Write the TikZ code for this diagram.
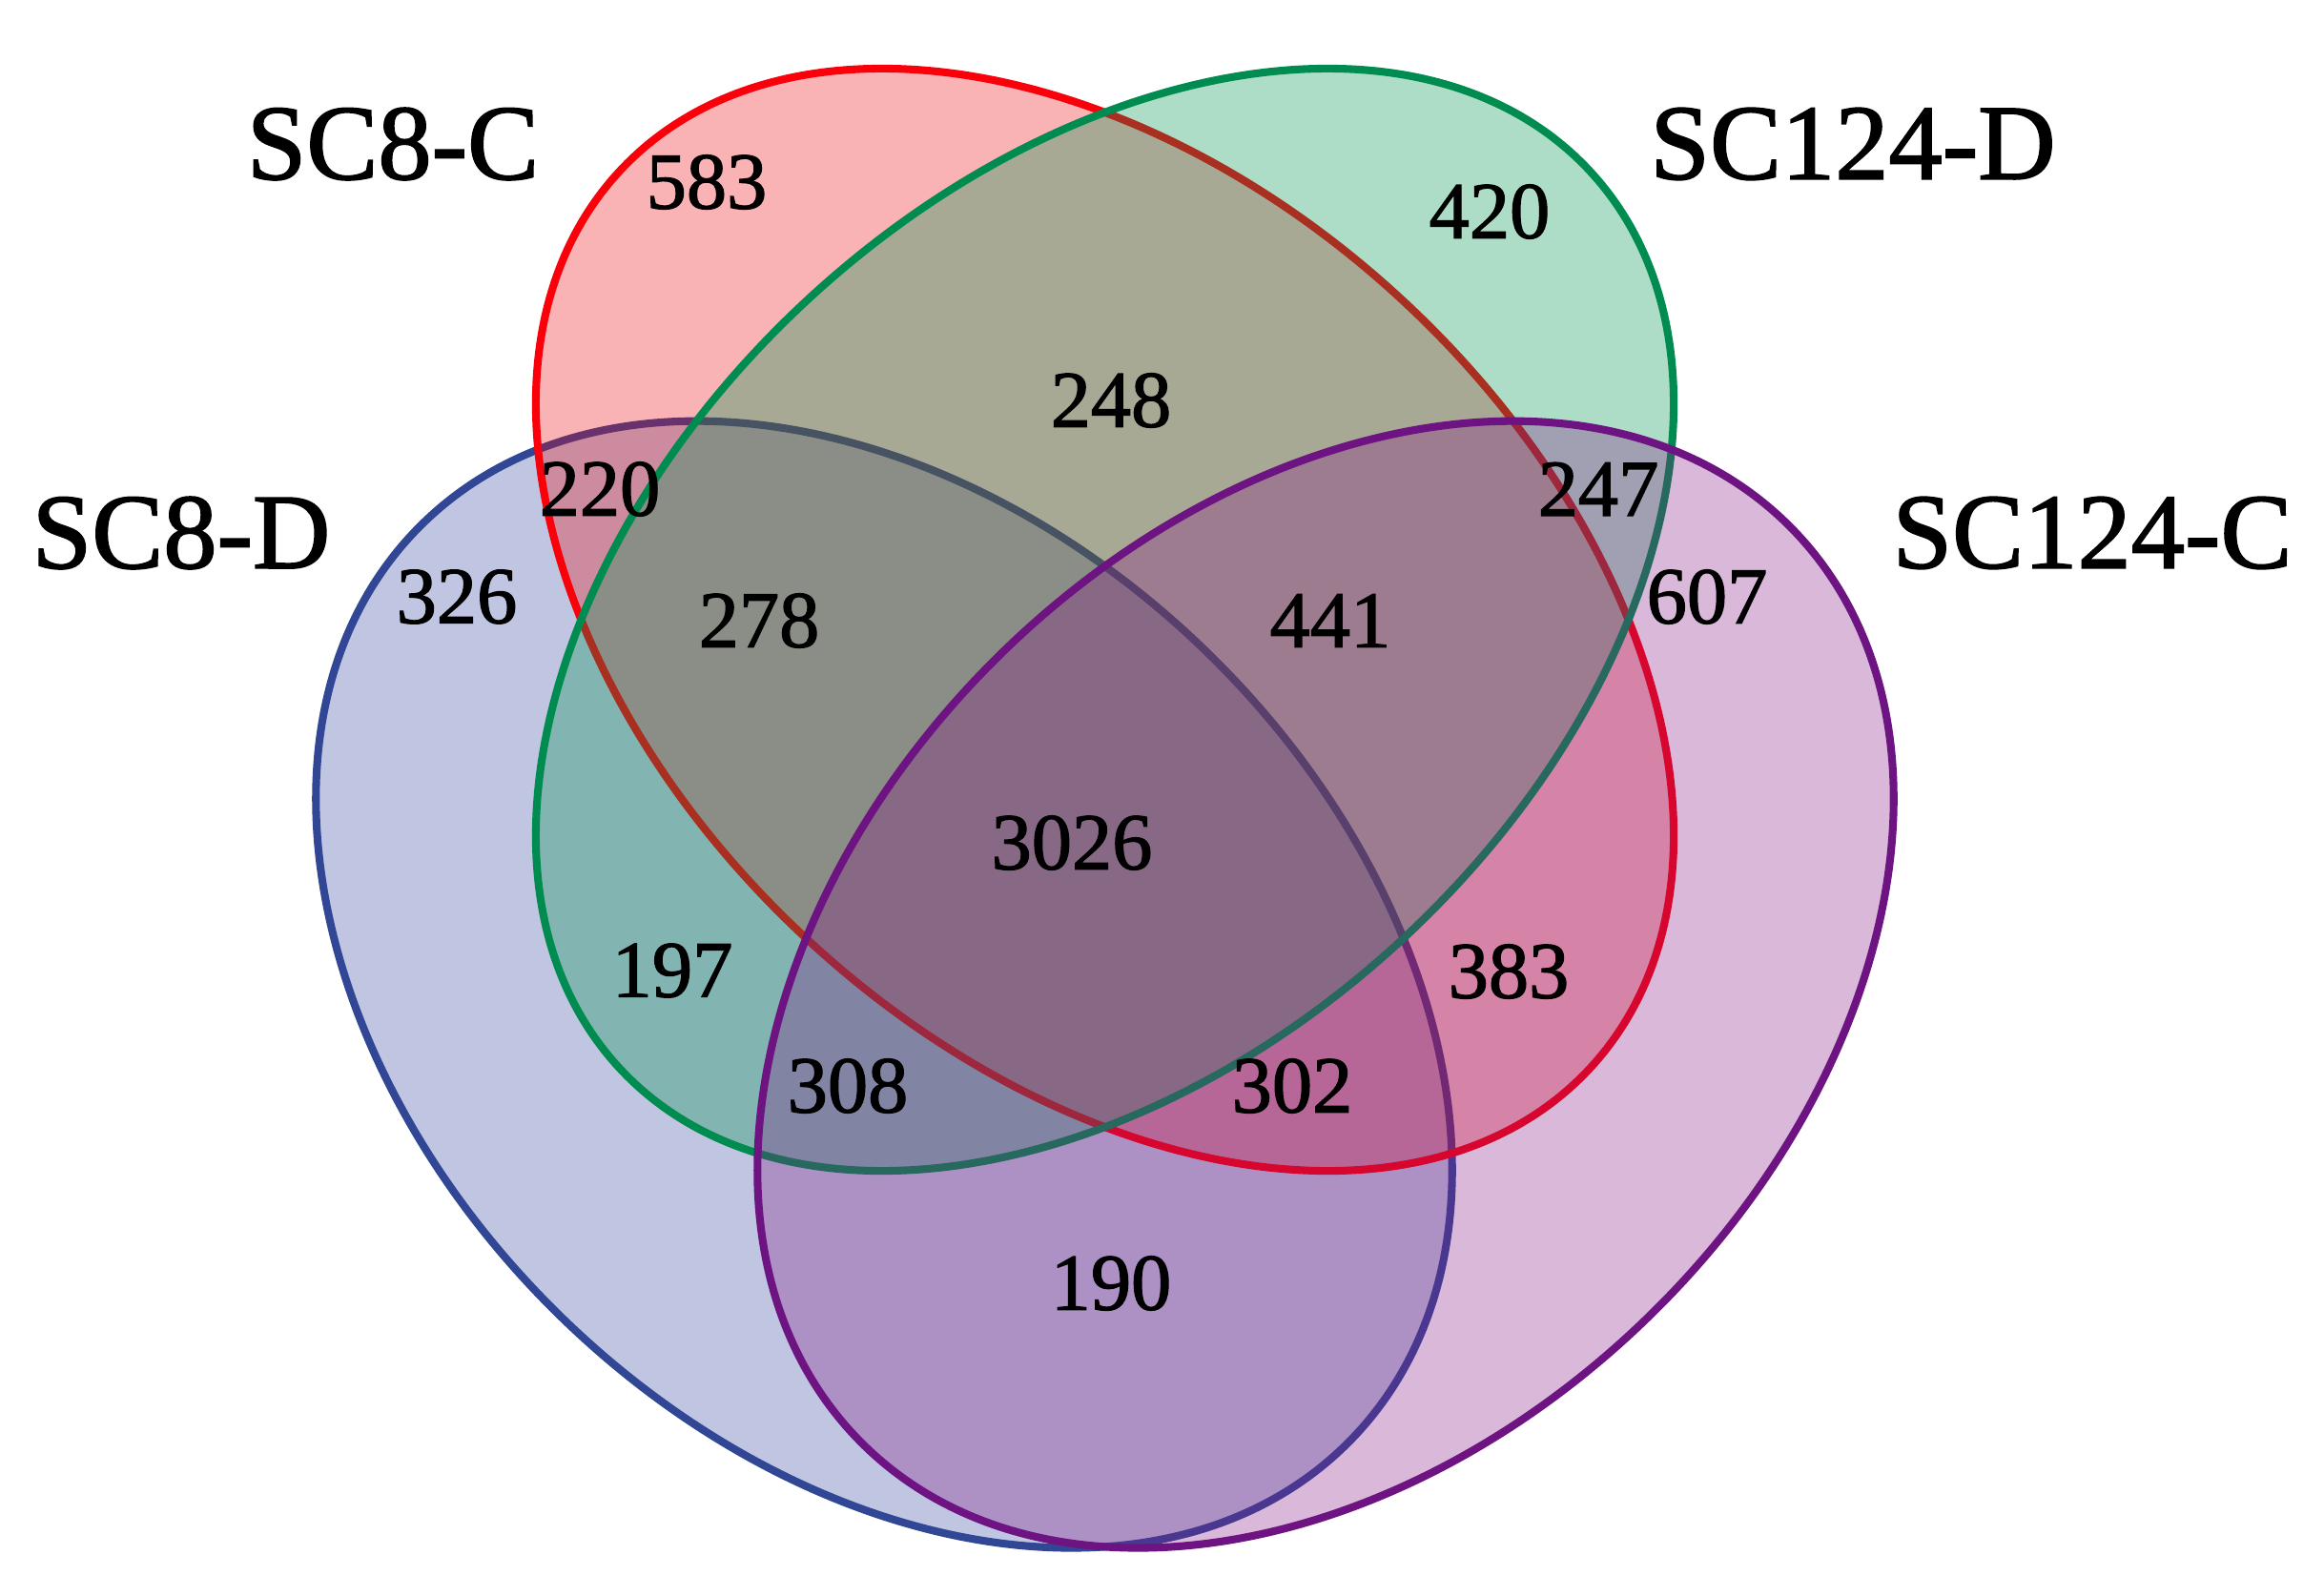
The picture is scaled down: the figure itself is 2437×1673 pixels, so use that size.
\documentclass[tikz,border=0pt]{standalone}
\usepackage{fontspec}
\setmainfont{Liberation Serif}
\newfontfamily\heavyfont{Liberation Serif}[FakeBold=1.5]
\usepackage{xcolor}
\usepackage{tikz}
\definecolor{lred}{RGB}{250,0,10}
\definecolor{fred}{RGB}{238,5,12}
\definecolor{lgreen}{RGB}{0,140,80}
\definecolor{fgreen}{RGB}{0,150,80}
\definecolor{lblue}{RGB}{50,70,150}
\definecolor{fblue}{RGB}{48,65,158}
\definecolor{lpurple}{RGB}{110,20,130}
\definecolor{fpurple}{RGB}{132,22,132}

\begin{document}
\begin{tikzpicture}[x=0.01cm,y=-0.01cm,
	set/.style={line width=2.3pt,fill opacity=0.3},
	num/.style={font=\heavyfont\fontsize{24}{28}\selectfont},
	lab/.style={font=\heavyfont\fontsize{32}{38}\selectfont}]
		\useasboundingbox (0,0) rectangle (2437,1673);
		\fill[white] (0,0) rectangle (2437,1673);
		% the four sets
		\draw[set,draw=lblue,fill=fblue,rotate around={-44.3:(927,1032.6)}] (927,1032.6) ellipse [x radius=684,y radius=486];
		\draw[set,draw=lred,fill=fred,rotate around={-42.7:(1158.5,650)}] (1158.5,650) ellipse [x radius=693,y radius=458];
		\draw[set,draw=lgreen,fill=fgreen,fill opacity=0.32,rotate around={42.7:(1158.5,650)}] (1158.5,650) ellipse [x radius=693,y radius=458];
		\draw[set,draw=lpurple,fill=fpurple,rotate around={44.3:(1390,1032.6)}] (1390,1032.6) ellipse [x radius=684,y radius=486];
		% set names
		\node[lab] (sc8c) at (412,151) {SC8-C};
		\node[lab] (sc124d) at (1943,151) {SC124-D};
		\node[lab] (sc8d) at (190,559) {SC8-D};
		\node[lab] (sc124c) at (2194,559) {SC124-C};
		% counts
		\node[num] (n583) at (741,191) {583};
		\node[num] (n420) at (1562,222) {420};
		\node[num] (n248) at (1165,420) {248};
		\node[num] (n220) at (629,513) {220};
		\node[num] (n247) at (1676,513) {247};
		\node[num] (n326) at (479,626) {326};
		\node[num] (n278) at (796,651) {278};
		\node[num] (n441) at (1395,651) {441};
		\node[num] (n607) at (1790,626) {607};
		\node[num] (n3026) at (1124,884) {3026};
		\node[num] (n197) at (705,1018) {197};
		\node[num] (n383) at (1582,1019) {383};
		\node[num] (n308) at (889,1139) {308};
		\node[num] (n302) at (1355,1139) {302};
		\node[num] (n190) at (1165,1346) {190};
\end{tikzpicture}
\end{document}
